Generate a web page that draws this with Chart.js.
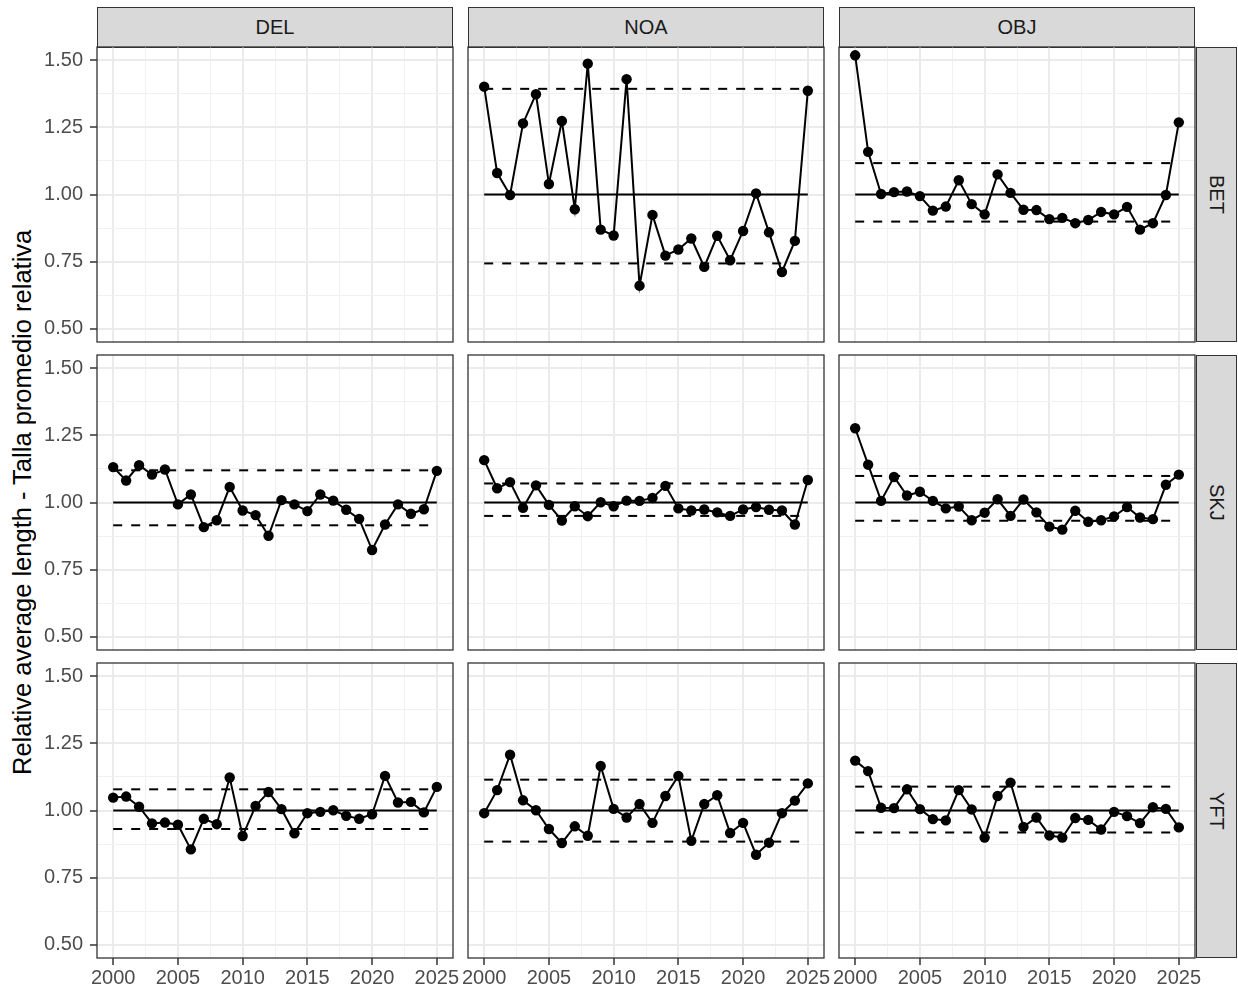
<!DOCTYPE html>
<html>
<head>
<meta charset="utf-8">
<script src="https://cdn.jsdelivr.net/npm/chart.js@4.4.0/dist/chart.umd.min.js"></script>
<style>
  body { margin: 0; background: #fff; font-family: "Liberation Sans", Arial, sans-serif; }
  #wrap { position: relative; width: 1238px; height: 991px; overflow: hidden; }
  #wrap canvas { position: absolute; }
  .strip {
    position: absolute; box-sizing: border-box; background: #d9d9d9; border: 1px solid #333;
    display: flex; align-items: center; justify-content: center; color: #1a1a1a; font-size: 20px;
  }
  .strip.side { writing-mode: vertical-rl; }
  #ytitle {
    position: absolute; left: 8px; top: 47px; width: 28px; height: 911px;
    writing-mode: vertical-rl; transform: rotate(180deg);
    display: flex; align-items: center; justify-content: center;
    font-size: 25.5px; color: #000; white-space: nowrap;
  }
</style>
</head>
<body>
<div id="wrap">
  <div id="ytitle">Relative average length - Talla promedio relativa</div>
</div>
<script>
// datos
const years = [2000, 2001, 2002, 2003, 2004, 2005, 2006, 2007, 2008, 2009, 2010, 2011, 2012,
               2013, 2014, 2015, 2016, 2017, 2018, 2019, 2020, 2021, 2022, 2023, 2024, 2025];
const xTicks = [2000, 2005, 2010, 2015, 2020, 2025];
const yTicks = [0.50, 0.75, 1.00, 1.25, 1.50];
const gears = ['DEL', 'NOA', 'OBJ'];
const species = ['BET', 'SKJ', 'YFT'];
const refLine = 1;

const noaBet = [1.402, 1.080, 0.998, 1.265, 1.374, 1.039, 1.274, 0.945, 1.488, 0.869, 0.847, 1.430, 0.660,
                0.924, 0.772, 0.795, 0.836, 0.730, 0.846, 0.755, 0.864, 1.004, 0.859, 0.711, 0.827, 1.387];
const noaBetLimits = [0.743, 1.394];

const objBet = [1.519, 1.159, 1.002, 1.009, 1.011, 0.994, 0.940, 0.955, 1.053, 0.964, 0.926, 1.075, 1.006,
                0.943, 0.942, 0.908, 0.913, 0.893, 0.905, 0.935, 0.926, 0.954, 0.869, 0.893, 0.998, 1.269];
const objBetLimits = [0.899, 1.117];

const delSkj = [1.132, 1.082, 1.139, 1.104, 1.123, 0.993, 1.030, 0.908, 0.934, 1.058, 0.970, 0.953, 0.876,
                1.009, 0.993, 0.968, 1.030, 1.007, 0.973, 0.939, 0.823, 0.918, 0.993, 0.958, 0.975, 1.118];
const delSkjLimits = [0.915, 1.120];

const noaSkj = [1.158, 1.053, 1.076, 0.980, 1.064, 0.991, 0.933, 0.986, 0.949, 1.001, 0.986, 1.007, 1.006,
                1.017, 1.062, 0.978, 0.970, 0.974, 0.963, 0.950, 0.974, 0.983, 0.973, 0.970, 0.918, 1.084];
const noaSkjLimits = [0.950, 1.071];

const objSkj = [1.277, 1.141, 1.006, 1.095, 1.026, 1.040, 1.006, 0.978, 0.985, 0.934, 0.962, 1.012, 0.950,
                1.011, 0.963, 0.910, 0.899, 0.969, 0.928, 0.934, 0.948, 0.983, 0.944, 0.938, 1.066, 1.104];
const objSkjLimits = [0.932, 1.099];

const delYft = [1.048, 1.052, 1.014, 0.952, 0.955, 0.947, 0.855, 0.969, 0.949, 1.123, 0.905, 1.017, 1.069,
                1.005, 0.915, 0.990, 0.995, 1.001, 0.980, 0.969, 0.986, 1.129, 1.030, 1.032, 0.993, 1.088];
const delYftLimits = [0.931, 1.079];

const noaYft = [0.990, 1.076, 1.208, 1.038, 1.001, 0.931, 0.879, 0.941, 0.906, 1.166, 1.006, 0.974, 1.024,
                0.954, 1.054, 1.129, 0.887, 1.024, 1.057, 0.916, 0.954, 0.835, 0.880, 0.990, 1.037, 1.101];
const noaYftLimits = [0.884, 1.115];

const objYft = [1.186, 1.147, 1.010, 1.009, 1.079, 1.005, 0.968, 0.963, 1.076, 1.004, 0.899, 1.054, 1.104,
                0.939, 0.974, 0.907, 0.899, 0.972, 0.965, 0.929, 0.995, 0.979, 0.953, 1.012, 1.006, 0.937];
const objYftLimits = [0.918, 1.089];

// filas = especie, columnas = arte
const panelValues = [
  [null, noaBet, objBet],
  [delSkj, noaSkj, objSkj],
  [delYft, noaYft, objYft]
];
const panelLimits = [
  [null, noaBetLimits, objBetLimits],
  [delSkjLimits, noaSkjLimits, objSkjLimits],
  [delYftLimits, noaYftLimits, objYftLimits]
];

// geometría de la rejilla
const colLeft = [97, 468, 839];
const rowTop = [47, 355, 663];
const panelW = 356, panelH = 295;
const pad = 20;

Chart.defaults.font.family = '"Liberation Sans", Arial, sans-serif';
Chart.defaults.font.size = 20;
Chart.defaults.color = '#4d4d4d';

function midpoints(arr) {
  const out = [];
  for (let i = 0; i < arr.length - 1; i++) out.push((arr[i] + arr[i + 1]) / 2);
  return out;
}
const xGrid = xTicks.concat(midpoints(xTicks)).sort((a, b) => a - b);
const yGrid = yTicks.concat(midpoints(yTicks)).sort((a, b) => a - b);
const isMajor = (list, v) => list.some(t => Math.abs(t - v) < 1e-9);

const panelBorder = {
  id: 'panelBorder',
  afterDraw(chart) {
    const a = chart.chartArea, ctx = chart.ctx;
    ctx.save();
    ctx.strokeStyle = '#333333';
    ctx.lineWidth = 1.3;
    ctx.strokeRect(a.left, a.top, a.right - a.left, a.bottom - a.top);
    ctx.restore();
  }
};

const wrap = document.getElementById('wrap');

gears.forEach((g, c) => {
  const s = document.createElement('div');
  s.className = 'strip';
  Object.assign(s.style, { left: colLeft[c] + 'px', top: '7px', width: panelW + 'px', height: '41px' });
  s.textContent = g;
  wrap.appendChild(s);
});
species.forEach((sp, r) => {
  const s = document.createElement('div');
  s.className = 'strip side';
  Object.assign(s.style, { left: '1196px', top: rowTop[r] + 'px', width: '41px', height: panelH + 'px' });
  s.textContent = sp;
  wrap.appendChild(s);
});

for (let r = 0; r < 3; r++) {
  for (let c = 0; c < 3; c++) {
    const showY = c === 0, showX = r === 2;
    const L = colLeft[c], T = rowTop[r];
    const cLeft = showY ? 0 : L - pad;
    const cTop = T - 10;
    const cRight = L + panelW + pad;
    const cBottom = showX ? 991 : T + panelH + 10;

    const cv = document.createElement('canvas');
    cv.width = cRight - cLeft;
    cv.height = cBottom - cTop;
    cv.style.left = cLeft + 'px';
    cv.style.top = cTop + 'px';
    wrap.appendChild(cv);

    const vals = panelValues[r][c], lim = panelLimits[r][c];
    const datasets = [];
    if (vals) {
      const ref = (y, dash) => ({
        data: [{ x: years[0], y: y }, { x: years[years.length - 1], y: y }],
        borderColor: '#000', borderWidth: 2, borderDash: dash, pointRadius: 0
      });
      datasets.push(ref(lim[1], [9, 9]));
      datasets.push(ref(lim[0], [9, 9]));
      datasets.push(ref(refLine, []));
      datasets.push({
        data: years.map((yr, i) => ({ x: yr, y: vals[i] })),
        borderColor: '#000', borderWidth: 2,
        pointRadius: 5.2, pointBackgroundColor: '#000', pointBorderWidth: 0,
        clip: false
      });
    }

    new Chart(cv, {
      type: 'line',
      data: { datasets },
      options: {
        responsive: false,
        animation: false,
        devicePixelRatio: 1,
        layout: { padding: { left: showY ? 0 : pad, right: pad, top: 10, bottom: showX ? 0 : 10 } },
        plugins: { legend: { display: false }, tooltip: { enabled: false } },
        scales: {
          x: {
            type: 'linear', min: 1998.75, max: 2026.25,
            afterBuildTicks: sc => { sc.ticks = xGrid.map(v => ({ value: v })); },
            afterFit: sc => {
              sc.height = showX ? 991 - (T + panelH) : 0;
              sc.paddingLeft = 0; sc.paddingRight = 0;
            },
            ticks: {
              display: showX, autoSkip: false, maxRotation: 0, minRotation: 0, padding: 1,
              color: '#4d4d4d',
              callback: v => isMajor(xTicks, v) ? String(v) : ''
            },
            grid: {
              color: c2 => isMajor(xTicks, c2.tick.value) ? '#ebebeb' : '#f1f1f1',
              lineWidth: c2 => isMajor(xTicks, c2.tick.value) ? 2 : 1,
              drawTicks: showX, tickLength: 7, tickWidth: 1.5,
              tickColor: c2 => isMajor(xTicks, c2.tick.value) ? '#333' : 'rgba(0,0,0,0)'
            },
            border: { display: false }
          },
          y: {
            type: 'linear', min: 0.45, max: 1.55,
            afterBuildTicks: sc => { sc.ticks = yGrid.map(v => ({ value: v })); },
            afterFit: sc => {
              sc.width = showY ? L : 0;
              sc.paddingTop = 0; sc.paddingBottom = 0;
            },
            ticks: {
              display: showY, autoSkip: false, padding: 7,
              color: '#4d4d4d',
              callback: v => isMajor(yTicks, v) ? v.toFixed(2) : ''
            },
            grid: {
              color: c2 => isMajor(yTicks, c2.tick.value) ? '#ebebeb' : '#f1f1f1',
              lineWidth: c2 => isMajor(yTicks, c2.tick.value) ? 2 : 1,
              drawTicks: showY, tickLength: 7, tickWidth: 1.5,
              tickColor: c2 => isMajor(yTicks, c2.tick.value) ? '#333' : 'rgba(0,0,0,0)'
            },
            border: { display: false }
          }
        }
      },
      plugins: [panelBorder]
    });
  }
}
</script>
</body>
</html>
